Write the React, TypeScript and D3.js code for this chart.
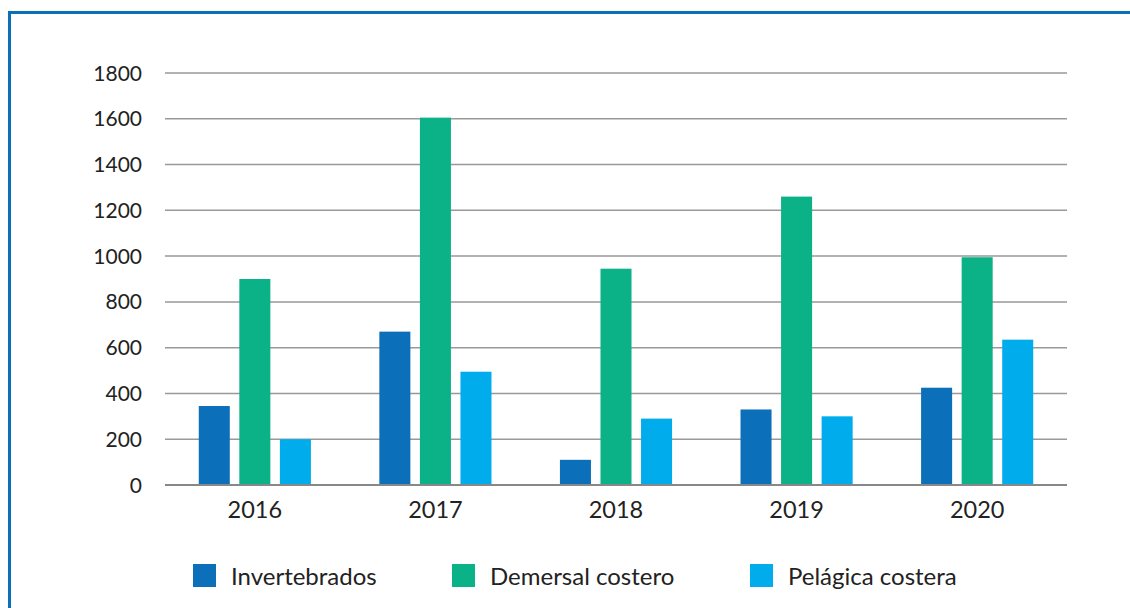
import * as d3 from "d3";

const years = ["2016", "2017", "2018", "2019", "2020"];
const seriesNames = ["Invertebrados", "Demersal costero", "Pelágica costera"];
const invertebrados = [345, 670, 110, 330, 425];
const demersal = [900, 1605, 945, 1260, 995];
const pelagica = [200, 495, 290, 300, 635];
const yTicks = [0, 200, 400, 600, 800, 1000, 1200, 1400, 1600, 1800];
const colors = ["#0b6fba", "#0bb187", "#00acec"];

export default function App() {
  const width = 1130;
  const height = 608;
  const marginLeft = 165;
  const marginRight = 63;
  const marginTop = 73;
  const plotBottom = 485;
  const font = "Lato, 'Open Sans', sans-serif";

  const series = [invertebrados, demersal, pelagica];

  const x = d3.scaleBand()
    .domain(years)
    .range([marginLeft, width - marginRight])
    .paddingInner(0.379)
    .paddingOuter(0.187);

  const xInner = d3.scaleBand()
    .domain(seriesNames)
    .range([0, x.bandwidth()])
    .paddingInner(0.235)
    .paddingOuter(0);

  const y = d3.scaleLinear()
    .domain([0, 1800])
    .range([plotBottom, marginTop]);

  const legendX = [193, 452, 750];

  return (
    <svg width={width} height={height} style={{ position: "absolute", left: 0, top: 0 }}>
      <rect x={0} y={0} width={width} height={height} fill="#fff" />
      {/* frame */}
      <path d={`M9.5,${height} V12.5 H${width}`} fill="none" stroke="#0b6fba" strokeWidth={3} />

      {/* grid */}
      {yTicks.map(t => (
        <g key={t}>
          <line x1={marginLeft} x2={width - marginRight} y1={y(t)} y2={y(t)} stroke="#999" strokeWidth={1.5} />
          <text x={142} y={y(t)} dy="0.36em" textAnchor="end" fontFamily={font} fontSize={21} fill="#222">{t}</text>
        </g>
      ))}

      {/* bars */}
      {years.map((yr, i) => (
        <g key={yr} transform={`translate(${x(yr)},0)`}>
          {seriesNames.map((s, j) => (
            <rect key={s} x={xInner(s)} width={xInner.bandwidth()} y={y(series[j][i])}
              height={y(0) - y(series[j][i])} fill={colors[j]} />
          ))}
          <text x={x.bandwidth() / 2} y={518} textAnchor="middle" fontFamily={font} fontSize={23.5} fill="#222">{yr}</text>
        </g>
      ))}

      <line x1={marginLeft} x2={width - marginRight} y1={y(0)} y2={y(0)} stroke="#888" strokeWidth={2} />

      {/* legend */}
      {seriesNames.map((s, j) => (
        <g key={s} transform={`translate(${legendX[j]},564)`}>
          <rect width={23} height={23} fill={colors[j]} />
          <text x={38} y={20.5} fontFamily={font} fontSize={24} fill="#222">{s}</text>
        </g>
      ))}
    </svg>
  );
}
